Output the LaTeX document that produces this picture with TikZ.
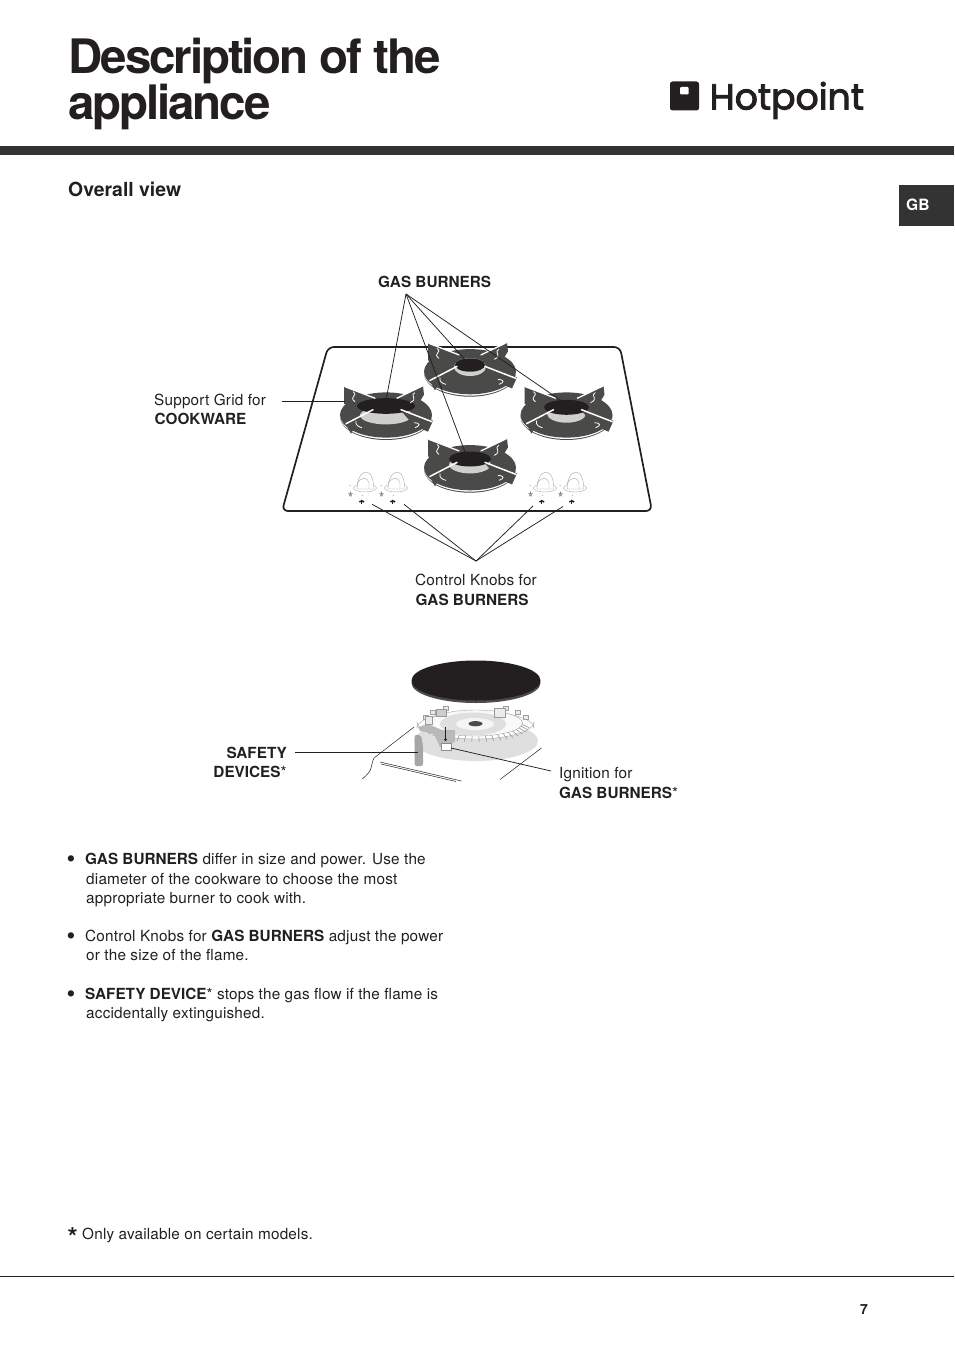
\documentclass[tikz,border=0pt]{standalone}
\usepackage{fontspec}
\setmainfont{TeX Gyre Heros}[LetterSpace=1.3,BoldFeatures={LetterSpace=0}]
\newfontfamily\titlefont[LetterSpace=-4.4]{TeX Gyre Heros}
\newfontfamily\logofont[FakeBold=2.5]{Poppins}
\definecolor{ink}{HTML}{231F20}
\definecolor{bar}{HTML}{333333}
\definecolor{iron}{HTML}{4A4A48}
\definecolor{crescent}{HTML}{CFCFCB}
\newcommand\burnerAt[7]{\def\capR{#3}\def\capRy{#4}\def\capY{#5}\def\creR{#6}\def\creB{#7}\pic at (#1,#2) {burner};}
\tikzset{
 lab/.style={anchor=base west,inner sep=0pt,font=\fontsize{15.3}{18}\selectfont,text=ink},
 labb/.style={lab,font=\bfseries\fontsize{15.3}{18}\selectfont},
 labr/.style={labb,anchor=base east},
 body/.style={lab},
 bullet/.style={lab,font=\fontsize{25}{25}\selectfont},
 titletext/.style={anchor=base west,inner sep=0pt,font=\titlefont\bfseries\fontsize{47.5}{50}\selectfont,text=ink},
 leader/.style={draw=ink,line width=0.75pt},
 thin/.style={draw=ink,line width=0.5pt},
 burner/.pic={
  \fill[iron] (0,0) ellipse[x radius=46,y radius=23.3];
  \fill[white] (0,-0.7) ellipse[x radius=46,y radius=23];
  \fill[iron] (0,-1.7) ellipse[x radius=46,y radius=22.6];
  \fill[crescent] (0,\creB-9) ellipse[x radius=\creR,y radius=9];
  % arm flanges
  \fill[iron] (-42,-30) -- (-11,-18) -- (-24,-9) -- (-30,-8) -- (-42,-13) -- cycle;
  \fill[iron] (37,-31) -- (38,-22) -- (30,-9) -- (20,-10) -- (9,-17) -- cycle;
  \fill[iron] (-41,6) -- (-35,17) -- (-30,8) -- (-24,1) -- cycle;
  \fill[iron] (47,4) -- (42,15) -- (28,9) -- (15,-6) -- cycle;
  \fill[ink] (0,\capY) ellipse[x radius=\capR,y radius=\capRy];
  % white ribs
  \draw[white,line width=1.3pt,line cap=round] (-41,-30) -- (-11,-18.5);
  \draw[white,line width=1.3pt,line cap=round] (37,-31) -- (11,-18.5);
  \draw[white,line width=1.5pt,line cap=round] (-40,7) -- (-13,-7);
  \draw[white,line width=1.5pt,line cap=round] (46,5) -- (15,-7);
  % clips
  \draw[white,line width=0.8pt] (-33,-25) .. controls (-27,-21) and (-38,-20) .. (-31,-15);
  \draw[white,line width=0.8pt] (29,-24) .. controls (23,-21) and (33,-18) .. (24,-14);
  \draw[white,line width=0.8pt] (-30,4) .. controls (-31,9) and (-27,10) .. (-24,11);
  \draw[white,line width=0.8pt] (28,6) .. controls (34,6) and (35,9) .. (29,11);
 },
 knob/.pic={
  \draw[gray!70,line width=0.4pt,fill=white] (0,0) ellipse[x radius=11.5,y radius=4];
  \draw[gray!70,line width=0.4pt,fill=white] (-8,1) .. controls (-8,-8) and (-4,-16) .. (1,-16) .. controls (6,-16) and (9,-8) .. (8.5,1) -- cycle;
  \draw[gray!70,line width=0.4pt] (-8,-4) .. controls (-4,-12) and (3,-11) .. (4,-5) -- (4,1);
  \fill[gray] (-15,-2.5) circle[radius=0.5];
  \draw[gray,line width=0.4pt] (-16.5,5.5) -- (-12.5,5.5) -- (-15.5,8) -- (-14.5,4) -- (-13.5,8) -- cycle;
  \fill[gray] (-2.5,7.5) circle[radius=0.4];
  \fill[ink] (-3.3,13) circle[radius=1.3] (-1.6,13.6) circle[radius=1.1] (-5,13.6) circle[radius=1.1];
  \fill[ink] (-3.9,14) rectangle (-2.7,16);
 }
}
\begin{document}
\begin{tikzpicture}[x=1pt,y=-1pt]
\useasboundingbox (0,0) rectangle (954,1351);
% header
\node[titletext] (title1) at (68.5,73.7) {Description of the};
\node[titletext] (title2) at (68,119.7) {appliance};
\fill[ink,rounded corners=2.5pt] (670,81.5) rectangle (699,110.5);
\fill[white,rounded corners=1pt] (680,87) rectangle (688.5,94.5);
\node[anchor=base west,inner sep=0pt,text=ink,font=\logofont\fontsize{36.2}{40}\selectfont] (logo) at (709.5,109.5) {Hotpoint};
\fill[bar] (0,146) rectangle (954,155);
\node[lab,font=\bfseries\fontsize{19.4}{22}\selectfont] (overall) at (68,196.5) {Overall view};
\fill[bar] (899,185) rectangle (954,226);
\node[anchor=base west,inner sep=0pt,text=white,font=\bfseries\fontsize{15.6}{18}\selectfont] (gb) at (906,211) {GB};
% hob
\draw[ink,line width=1.7pt,rounded corners=6pt] (328,347) -- (620,347) -- (652,511) -- (282,511) -- cycle;
\burnerAt{386}{416.7}{29}{7.8}{-10.7}{26}{7.7}
\burnerAt{470}{373.4}{15}{6.7}{-8.4}{16}{2.6}
\burnerAt{566.5}{416.7}{22.5}{7.5}{-9.4}{19.5}{6}
\burnerAt{470}{469.4}{21}{7.5}{-10.4}{21}{4}
\pic at (365,488) {knob};
\pic at (396,488) {knob};
\pic at (545,488) {knob};
\pic at (575,488) {knob};
% labels top
\node[labb] (gasb) at (378,287) {GAS BURNERS};
\coordinate (apex) at (406,294);
\coordinate (b1) at (385.7,402);
\coordinate (b2) at (468,363);
\coordinate (b3) at (563,402);
\coordinate (b4) at (465,452);
\foreach \t in {b1,b2,b3,b4} \draw[leader] (apex) -- (\t);
\node[lab] (sup1) at (154,405) {Support Grid for};
\node[labb] (sup2) at (154.5,424) {COOKWARE};
\coordinate (supa) at (282,401.3);
\coordinate (supb) at (345,401.3);
\draw[leader] (supa) -- (supb);
\coordinate (kapex) at (476,561);
\coordinate (k1) at (372,504.3);
\coordinate (k2) at (404,504.3);
\coordinate (k3) at (533,506);
\coordinate (k4) at (563,506.5);
\foreach \t in {k1,k2,k3,k4} \draw[leader] (kapex) -- (\t);
\node[lab] (ck1) at (415,585) {Control Knobs for};
\node[labb] (ck2) at (415.5,605) {GAS BURNERS};
% burner detail: base and crown
\fill[gray!25] (476,741) ellipse[x radius=62,y radius=20];
\draw[gray!70,line width=0.4pt,fill=white] (417,722) -- (417,728) arc[start angle=180,end angle=360,x radius=58.5,y radius=17] -- (534,722) arc[start angle=0,end angle=180,x radius=58.5,y radius=17] -- cycle;
\draw[gray!70,line width=0.4pt,fill=gray!5] (475.5,723) ellipse[x radius=47,y radius=13];
\fill[gray!25] (473,724) ellipse[x radius=33,y radius=11.5];
\fill[gray!8] (475,724) ellipse[x radius=19,y radius=6];
\fill[iron] (475.5,723.7) ellipse[x radius=7,y radius=2.6];
% crown teeth
\foreach \a in {6,14,...,150}{
  \draw[gray!85,line width=0.55pt] ({475.5+47*cos(\a)},{723+13*sin(\a)}) -- ({475.5+54*cos(\a)},{726+16*sin(\a)});
}
\foreach \a in {195,215,235,305,325,345}{
  \draw[gray!75,line width=0.5pt,fill=gray!15] ({475.5+52*cos(\a)-2.5},{721+15*sin(\a)-2}) rectangle ++(5,4);
}
% cut-away
\fill[gray!55] (418,727) -- (428,724) -- (442,730) -- (455,730) -- (455,742) -- (440,747) -- (434,734) -- (420,731) -- cycle;
\draw[gray!80,line width=0.5pt,fill=gray!40] (436,709) rectangle (446,716);
\draw[gray!80,line width=0.5pt,fill=gray!15] (494,708) rectangle (505,717);
\draw[gray!80,line width=0.5pt,fill=gray!15] (425,716) rectangle (432,724);
% cap
\fill[iron] (476,683) ellipse[x radius=64.5,y radius=20];
\fill[ink] (476,680.5) ellipse[x radius=64.5,y radius=20];
% igniter
\draw[gray!90,line width=0.5pt,fill=white] (441,743) rectangle (451,750);
\fill[ink] (445.5,739.5) circle[radius=1.5];
\draw[ink,line width=0.5pt] (445.5,739) -- (445.5,727);
\fill[gray!70,rounded corners=2pt] (414.5,735) -- (421,735) -- (423,746) -- (423,766) -- (414.5,766) -- cycle;
\coordinate (sa) at (295,752.5);
\coordinate (sb) at (418,752.5);
\draw[leader] (sa) -- (sb);
\coordinate (ia) at (451,748);
\coordinate (ib) at (551,771);
\draw[leader] (ia) -- (ib);
\draw[thin] (414,727) -- (374,758) .. controls (370,766) and (374,770) .. (362,779);
\draw[thin] (380,762) -- (461.5,781);
\draw[thin] (381,764) -- (456,781.5);
\draw[thin] (541.5,748) -- (500,779.5);
\node[labr] (sd1) at (287,758) {SAFETY};
\node[labr] (sd2) at (287,777) {DEVICES\textmd{*}};
\node[lab] (ig1) at (559,778) {Ignition for};
\node[lab] (ig2) at (559,798) {\textbf{GAS BURNERS}*};
% body
\node[bullet] (l0) at (66.5,867) {•};
\node[body] (l1) at (85,864) {\textbf{GAS BURNERS} differ in size and power. Use the};
\node[body] (l2) at (86,884) {diameter of the cookware to choose the most};
\node[body] (l3) at (86,903) {appropriate burner to cook with.};
\node[bullet] (m0) at (66.5,944) {•};
\node[body] (m1) at (85,941) {Control Knobs for \textbf{GAS BURNERS} adjust the power};
\node[body] (m2) at (86,960) {or the size of the flame.};
\node[bullet] (n0) at (66.5,1002) {•};
\node[body] (n1) at (85,999) {\textbf{SAFETY DEVICE}* stops the gas flow if the flame is};
\node[body] (n2) at (86,1018) {accidentally extinguished.};
\node[lab,font=\bfseries\fontsize{26}{26}\selectfont] (star) at (67.5,1246) {*};
\node[body] (foot) at (82,1239) {Only available on certain models.};
\draw[ink,line width=1.6pt] (0,1276.5) -- (954,1276.5);
\node[lab,font=\bfseries\fontsize{14}{16}\selectfont] (page) at (860,1314) {7};
\end{tikzpicture}
\end{document}
